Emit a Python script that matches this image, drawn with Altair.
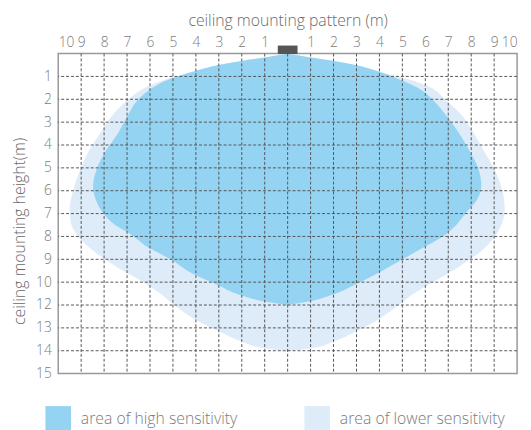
import altair as alt
import pandas as pd

# ---- axis ticks / labels ----
x_ticks = list(range(-10, 11))
x_tick_labels = ["10", "9", "8", "7", "6", "5", "4", "3", "2", "1", "",
                 "1", "2", "3", "4", "5", "6", "7", "8", "9", "10"]
y_ticks = list(range(1, 15))
y_tick_labels = ["1", "2", "3", "4", "5", "6", "7", "8", "9", "10",
                 "12", "13", "14", "15"]
x_grid = list(range(-9, 10))
y_grid = list(range(1, 14))

series_names = ["area of high sensitivity", "area of lower sensitivity"]
series_colors = ["#94D4F2", "#DEEBF9"]

# ---- high sensitivity area (row position, left edge, right edge) ----
high_y = [0, 0.17, 0.32, 0.5, 0.78, 1.1, 1.6, 2.0, 2.8, 3.5, 4.3, 5.0, 5.8,
          6.4, 7.0, 7.5, 7.9, 8.5, 9.0, 9.6, 10.1, 10.55, 10.85, 11.0]
high_left = [0, -1, -2, -3, -4.1, -5.1, -6.05, -6.5, -7.02, -7.4, -7.95, -8.3,
             -8.48, -8.36, -8.03, -7.52, -6.85, -6.05, -5.1, -4.2, -3.1, -2.1,
             -1.0, 0]
high_right = [0, 1, 2, 2.95, 3.95, 4.8, 5.85, 6.3, 6.98, 7.48, 7.95, 8.3,
              8.44, 8.25, 7.75, 7.35, 6.9, 5.9, 5.0, 3.95, 2.95, 1.95, 0.9, 0]

# ---- lower sensitivity area ----
lower_y = [0, 0.17, 0.32, 0.5, 0.78, 1.05, 1.4, 2.1, 2.6, 3.35, 4.2, 5.1, 6.0,
           6.8, 7.4, 7.9, 8.6, 9.3, 9.9, 10.5, 11.0, 11.6, 12.15, 12.6, 12.9,
           13.0]
lower_left = [0, -1, -2, -3, -4.1, -5.05, -6.0, -7.05, -7.55, -8.08, -8.63,
              -9.05, -9.35, -9.5, -9.45, -9.2, -8.5, -7.5, -6.45, -5.55, -4.95,
              -4.09, -3.0, -2.0, -1.0, 0]
lower_right = [0, 1, 2, 2.95, 3.95, 5.0, 6.05, 6.95, 7.5, 8.03, 8.52, 9.03,
               9.36, 9.46, 9.35, 9.1, 8.48, 7.5, 6.5, 5.5, 4.85, 4.0, 3.0, 2.0,
               1.0, 0]

# ---- sensor block ----
sensor_x = [-0.43]
sensor_x2 = [0.43]
sensor_y = [-0.35]
sensor_y2 = [0.02]

FONT = "Open Sans"
TXT = "#7a7a7a"

high_df = pd.DataFrame({"series": series_names[0], "y": high_y,
                        "xl": high_left, "xr": high_right})
lower_df = pd.DataFrame({"series": series_names[1], "y": lower_y,
                         "xl": lower_left, "xr": lower_right})

x_scale = alt.Scale(domain=[-10, 10], nice=False, zero=False)
y_scale = alt.Scale(domain=[0, 14], reverse=True, nice=False, zero=False)

x_label_expr = "[" + ",".join("'%s'" % s for s in x_tick_labels) + "][datum.value + 10]"
y_label_expr = "[" + ",".join("'%s'" % s for s in y_tick_labels) + "][datum.value - 1]"

x_axis = alt.Axis(orient="top", values=x_ticks, labelExpr=x_label_expr,
                  grid=False, ticks=False, tickSize=0, domain=False,
                  labelFontSize=14, labelColor=TXT, labelPadding=4,
                  labelFont=FONT, labelFontWeight=300,
                  title="ceiling mounting pattern (m)", titleFont=FONT,
                  titleFontSize=16, titleFontWeight=300, titleColor="#6a6a6a",
                  titleY=-28, titleBaseline="alphabetic")
y_axis = alt.Axis(orient="left", values=y_ticks, labelExpr=y_label_expr,
                  grid=False, ticks=False, tickSize=0, domain=False,
                  labelFontSize=14, labelColor=TXT, labelPadding=7,
                  labelFont=FONT, labelFontWeight=300,
                  title="ceiling mounting height(m)", titleFont=FONT,
                  titleFontSize=16, titleFontWeight=300, titleColor="#6a6a6a",
                  titleX=-34, titleY=180, titleBaseline="alphabetic")

legend = alt.Legend(orient="none", legendX=-13, legendY=358,
                    direction="horizontal", title=None, symbolType="square",
                    symbolSize=676, symbolStrokeWidth=0, symbolOpacity=1,
                    labelFontSize=16, labelColor=TXT, labelFont=FONT,
                    labelFontWeight=300, labelOffset=10, columnPadding=68,
                    padding=0, labelLimit=0)

color = alt.Color("series:N",
                  scale=alt.Scale(domain=series_names, range=series_colors),
                  legend=legend)

lower_layer = alt.Chart(lower_df).mark_area(
    orient="horizontal", interpolate="monotone", opacity=1
).encode(
    y=alt.Y("y:Q", scale=y_scale, axis=y_axis),
    x=alt.X("xl:Q", scale=x_scale, axis=x_axis),
    x2="xr:Q",
    color=color,
)

high_layer = alt.Chart(high_df).mark_area(
    orient="horizontal", interpolate="monotone", opacity=1
).encode(
    y=alt.Y("y:Q", scale=y_scale, axis=y_axis),
    x=alt.X("xl:Q", scale=x_scale, axis=x_axis),
    x2="xr:Q",
    color=color,
)

vgrid = alt.Chart(pd.DataFrame({"xl": x_grid})).mark_rule(
    color="#555555", strokeDash=[3, 2], strokeWidth=1
).encode(x=alt.X("xl:Q", scale=x_scale, axis=x_axis))

hgrid = alt.Chart(pd.DataFrame({"y": y_grid})).mark_rule(
    color="#555555", strokeDash=[3, 2], strokeWidth=1
).encode(y=alt.Y("y:Q", scale=y_scale, axis=y_axis))

sensor = alt.Chart(pd.DataFrame({"xl": sensor_x, "xr": sensor_x2,
                                 "y": sensor_y, "y2": sensor_y2})).mark_rect(
    color="#555555"
).encode(
    x=alt.X("xl:Q", scale=x_scale, axis=x_axis), x2="xr:Q",
    y=alt.Y("y:Q", scale=y_scale, axis=y_axis), y2="y2:Q",
)

chart = alt.layer(lower_layer, high_layer, vgrid, hgrid, sensor).properties(
    width=466, height=325,
    autosize=alt.AutoSizeParams(type="none"),
    padding={"left": 51, "top": 43, "right": 6, "bottom": 54},
).configure_view(stroke="#999999", strokeWidth=1.5)

chart.save("out.html", embed_options={"renderer": "svg", "actions": False})
